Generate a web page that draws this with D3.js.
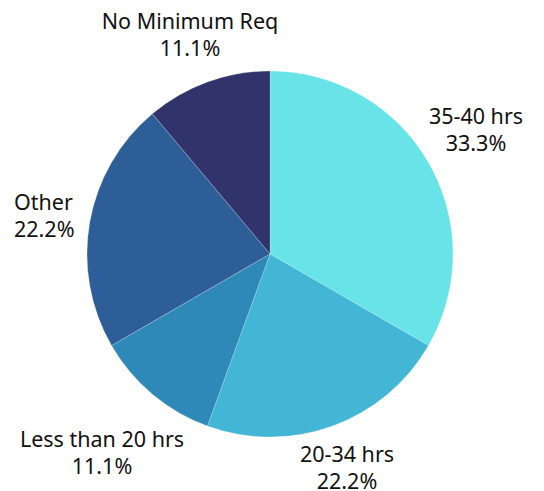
<!DOCTYPE html>
<html><head><meta charset="utf-8">
<script src="https://cdn.jsdelivr.net/npm/d3@7"></script>
<style>body{margin:0;background:#fff}</style>
</head><body>
<svg id="c" width="544" height="491"></svg>
<script>
const categories = ["35-40 hrs", "20-34 hrs", "Less than 20 hrs", "Other", "No Minimum Req"];
const values = [3, 2, 1, 2, 1];
const colors = ["#68e3e8", "#43b5d5", "#2e89b9", "#2e5e98", "#30346a"];
// label anchor positions [x, baseline of first line, anchor]
const labelPos = [[476, 124, "middle"], [347, 462, "middle"], [102, 447, "middle"], [14, 210, "start"], [190, 29, "middle"]];

const svg = d3.select("#c");
const cx = 270, cy = 254, r = 183;
const total = d3.sum(values);
const pie = d3.pie().sort(null).value(d => d)(values);
const arc = d3.arc().innerRadius(0).outerRadius(r);
const g = svg.append("g").attr("transform", `translate(${cx},${cy})`);
g.selectAll("path").data(pie).join("path")
  .attr("d", arc).attr("fill", (d, i) => colors[i])
  .attr("stroke", "#ffffff").attr("stroke-opacity", 0.35).attr("stroke-width", 0.6);

const fmt = v => (v / total * 100).toFixed(1) + "%";
categories.forEach((c, i) => {
  const [x, y, a] = labelPos[i];
  const t = svg.append("text").attr("x", x).attr("y", y).attr("text-anchor", a)
    .attr("font-family", "'Noto Sans', sans-serif").attr("font-size", 21.5).attr("fill", "#111");
  t.append("tspan").attr("x", x).text(c);
  t.append("tspan").attr("x", x).attr("dy", 27).text(fmt(values[i]));
});
</script>
</body></html>
